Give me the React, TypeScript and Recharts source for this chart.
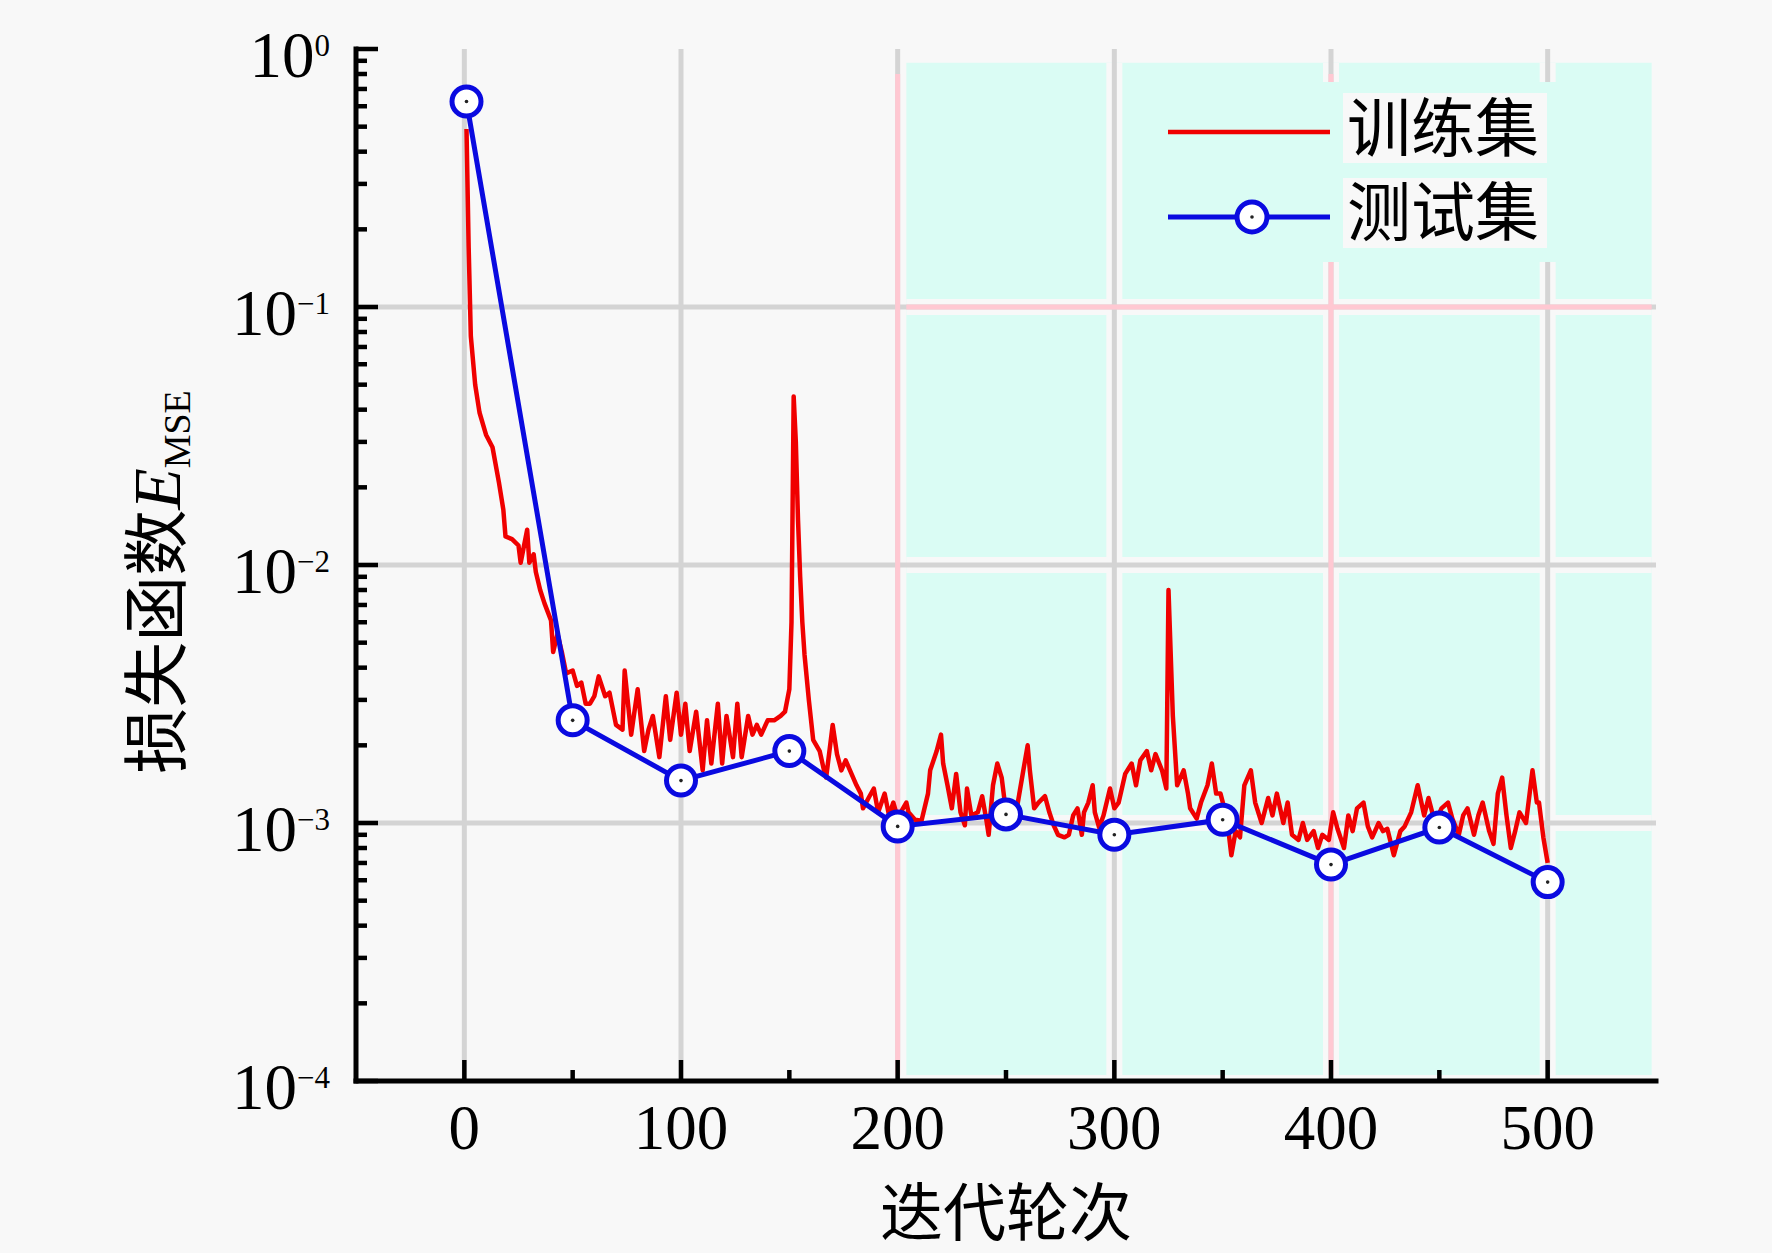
import React from 'react';
import { LineChart, Line, XAxis, YAxis, ReferenceArea, ReferenceLine, Legend } from 'recharts';

// training loss (epoch / MSE)
const trainEpochs = [
  1, 2, 3, 5, 7, 10, 13, 16, 18, 19, 22, 25, 26, 29, 30, 32, 33, 35, 37, 40,
  41, 43, 45, 47, 50, 52, 54, 56, 58, 60, 62, 65, 67, 70, 73, 74, 77, 80, 83, 85,
  87, 90, 93, 95, 98, 100, 102, 104, 107, 110, 112, 114, 117, 119, 121, 124, 126, 128, 131, 133,
  135, 137, 140, 143, 146, 148, 150, 151, 152, 153, 154, 155, 156, 157, 159, 161, 164, 166, 167, 170,
  172, 174, 176, 178, 181, 183, 184, 187, 189, 191, 194, 196, 198, 200, 204, 205, 208, 211, 214, 215,
  218, 220, 221, 223, 225, 227, 229, 231, 232, 234, 237, 239, 241, 242, 244, 246, 248, 250, 252, 255,
  258, 260, 261, 263, 265, 268, 270, 272, 274, 277, 279, 281, 283, 285, 286, 288, 290, 291, 293, 295,
  298, 300, 302, 305, 308, 310, 312, 315, 317, 319, 322, 324, 325, 327, 329, 332, 334, 335, 338, 340,
  343, 345, 347, 349, 352, 354, 356, 358, 360, 363, 365, 368, 371, 373, 375, 378, 380, 382, 385, 387,
  389, 392, 394, 396, 399, 401, 403, 406, 408, 410, 412, 415, 417, 419, 422, 424, 426, 429, 432, 434,
  437, 440, 443, 445, 448, 451, 454, 456, 459, 461, 463, 466, 468, 470, 473, 475, 477, 479, 481, 483,
  485, 487, 490, 493, 495, 496, 498, 500,
];
const trainLoss = [
  0.49, 0.17, 0.077, 0.05, 0.039, 0.032, 0.0286, 0.0208, 0.0164, 0.0129, 0.0126, 0.0119, 0.0102, 0.0137, 0.0102, 0.011, 0.0094, 0.008, 0.0071, 0.0061,
  0.0046, 0.0054, 0.0046, 0.0038, 0.0039, 0.0034, 0.0035, 0.0029, 0.0029, 0.0031, 0.0037, 0.0031, 0.0032, 0.0024, 0.0023, 0.0039, 0.0022, 0.0033, 0.0019, 0.0023,
  0.0026, 0.0018, 0.0031, 0.0021, 0.0032, 0.0022, 0.0029, 0.0019, 0.0027, 0.0016, 0.0025, 0.0017, 0.0029, 0.0017, 0.0026, 0.0018, 0.0029, 0.0018, 0.0026, 0.0022,
  0.0024, 0.0022, 0.0025, 0.0025, 0.0026, 0.0027, 0.0033, 0.006, 0.045, 0.03, 0.015, 0.009, 0.006, 0.0045, 0.003, 0.0021, 0.0019, 0.0016, 0.0015, 0.0024,
  0.00185, 0.0016, 0.00175, 0.0016, 0.0014, 0.0013, 0.00114, 0.00127, 0.00136, 0.0011, 0.0013, 0.00107, 0.0012, 0.00105, 0.0012, 0.0011, 0.00103, 0.00102, 0.0013, 0.0016,
  0.0019, 0.0022, 0.0017, 0.0014, 0.00114, 0.00155, 0.0011, 0.00098, 0.00136, 0.00107, 0.0011, 0.00127, 0.00102, 0.0009, 0.0014, 0.0017, 0.0015, 0.0011, 0.0012, 0.00114,
  0.0016, 0.002, 0.0016, 0.00114, 0.0012, 0.00127, 0.0011, 0.00098, 0.0009, 0.00088, 0.0009, 0.00107, 0.00114, 0.0009, 0.0011, 0.0012, 0.0014, 0.0011, 0.00096, 0.00107,
  0.00136, 0.00114, 0.0012, 0.00155, 0.0017, 0.0014, 0.00175, 0.0019, 0.0016, 0.00185, 0.0016, 0.00136, 0.008, 0.0026, 0.0014, 0.0016, 0.0013, 0.00114, 0.00104, 0.0012,
  0.0014, 0.0017, 0.0013, 0.0013, 0.00104, 0.00075, 0.00093, 0.00088, 0.0014, 0.0016, 0.0012, 0.001, 0.00125, 0.00107, 0.0013, 0.001, 0.0012, 0.0009, 0.00086, 0.001,
  0.00086, 0.00093, 0.0008, 0.0009, 0.00086, 0.0011, 0.00095, 0.0008, 0.00107, 0.00093, 0.00114, 0.0012, 0.00097, 0.00088, 0.001, 0.00093, 0.00095, 0.00075, 0.00093, 0.00097,
  0.0011, 0.0014, 0.00107, 0.00125, 0.001, 0.00114, 0.0012, 0.00104, 0.0009, 0.00107, 0.00114, 0.0009, 0.00107, 0.0012, 0.00093, 0.00083, 0.0013, 0.0015, 0.00107, 0.0008,
  0.00093, 0.0011, 0.001, 0.0016, 0.0012, 0.0012, 0.00088, 0.0007,
];

// test loss, every 50 epochs
const testEpochs = [1, 50, 100, 150, 200, 250, 300, 350, 400, 450, 500];
const testLoss = [0.626, 0.0025, 0.00146, 0.0019, 0.00097, 0.00108, 0.0009, 0.00103, 0.00069, 0.00096, 0.00059];

const seriesNames = ['训练集', '测试集'];

const xMajorTicks = [0, 100, 200, 300, 400, 500];
const xMinorTicks = [50, 150, 250, 350, 450];
const yMajorTicks = [1e-4, 1e-3, 1e-2, 1e-1, 1];
const yTickExponents = ['−4', '−3', '−2', '−1', '0'];
const yMinorTicks = yMajorTicks.slice(0, 4).flatMap((d) => [2, 3, 4, 5, 6, 7, 8, 9].map((m) => m * d));

const trainData = trainEpochs.map((epoch, i) => ({ epoch, loss: trainLoss[i] }));
const testData = testEpochs.map((epoch, i) => ({ epoch, loss: testLoss[i] }));

const RED = '#f00000';
const BLUE = '#0a0ae0';
const CYAN = '#dafcf4';
const BG = '#f8f8f8';
const GRID = '#d4d4d4';
const PINK = '#ffc8d2';
const SERIF = '"Liberation Serif", "Times New Roman", serif';
const CJK = '"Noto Sans CJK SC", sans-serif';

// shaded region
const shadeX = [204, 548];
const shadeY = [1.054e-4, 0.885];

const isMajorY = (v: number) => yMajorTicks.some((t) => Math.abs(v / t - 1) < 1e-6);

const XTick = ({ x, y, payload, top }: any) => {
  const major = xMajorTicks.includes(payload.value);
  const len = major ? 21 : 11;
  const dir = top ? 1 : -1;
  return (
    <g>
      <line x1={x} x2={x} y1={y} y2={y + dir * len} stroke="#000" strokeWidth={4.5} />
      {major && !top && (
        <text x={x} y={y + 68} textAnchor="middle" fontFamily={SERIF} fontSize={63} fill="#000">
          {payload.value}
        </text>
      )}
    </g>
  );
};

const YTick = ({ x, y, payload, right }: any) => {
  const major = isMajorY(payload.value);
  const len = major ? 22 : 11;
  const dir = right ? -1 : 1;
  const idx = yMajorTicks.findIndex((t) => Math.abs(payload.value / t - 1) < 1e-6);
  return (
    <g>
      <line x1={x} x2={x + dir * len} y1={y} y2={y} stroke="#000" strokeWidth={4.5} />
      {major && !right && (
        <text x={x - 26} y={y + 28} textAnchor="end" fontFamily={SERIF} fontSize={65} fill="#000">
          10
          <tspan fontSize={31} dy={-21}>
            {yTickExponents[idx]}
          </tspan>
        </text>
      )}
    </g>
  );
};

const TestDot = (props: any) => {
  const { cx, cy, index } = props;
  if (cx == null || cy == null) return <g key={`d-${index}`} />;
  return (
    <g key={`d-${index}`}>
      <circle cx={cx} cy={cy} r={14.5} fill="#ffffff" stroke={BLUE} strokeWidth={5} />
      <circle cx={cx} cy={cy} r={1.8} fill="#222" />
    </g>
  );
};

const LegendBox = () => (
  <svg width={420} height={200}>
    <rect x={10} y={12} width={400} height={180} fill={CYAN} />
    <rect x={193} y={23} width={204} height={70} fill={BG} />
    <rect x={193} y={108} width={204} height={70} fill={BG} />
    <line x1={18} x2={180} y1={62} y2={62} stroke={RED} strokeWidth={4.5} />
    <line x1={18} x2={180} y1={147} y2={147} stroke={BLUE} strokeWidth={5} />
    <circle cx={102} cy={147} r={15} fill="#ffffff" stroke={BLUE} strokeWidth={5} />
    <circle cx={102} cy={147} r={1.8} fill="#222" />
    <text x={197} y={81} fontFamily={CJK} fontSize={64} fill="#000">
      {seriesNames[0]}
    </text>
    <text x={197} y={165} fontFamily={CJK} fontSize={64} fill="#000">
      {seriesNames[1]}
    </text>
  </svg>
);

const axisLine = { stroke: '#000', strokeWidth: 5, strokeLinecap: 'square' as const };

export default function App() {
  const allX = [...xMajorTicks, ...xMinorTicks].sort((a, b) => a - b);
  const allY = [...yMajorTicks, ...yMinorTicks].sort((a, b) => a - b);
  return (
    <div style={{ position: 'relative', width: 1772, height: 1253, background: BG }}>
      <style>{`body{margin:0;background:${BG};}`}</style>
      <LineChart width={1772} height={1253} margin={{ top: 49, right: 116, bottom: 0, left: 0 }}>
        <XAxis
          xAxisId="top"
          orientation="top"
          type="number"
          dataKey="epoch"
          domain={[-50, 550]}
          allowDataOverflow
          ticks={allX}
          interval={0}
          height={0}
          tickSize={0}
          tickMargin={0}
          tickLine={false}
          axisLine={axisLine}
          tick={<XTick top />}
        />
        <XAxis
          type="number"
          dataKey="epoch"
          domain={[-50, 550]}
          allowDataOverflow
          ticks={allX}
          interval={0}
          height={172}
          tickSize={0}
          tickMargin={0}
          tickLine={false}
          axisLine={axisLine}
          tick={<XTick />}
        />
        <YAxis
          type="number"
          scale="log"
          domain={[1e-4, 1]}
          allowDataOverflow
          ticks={allY}
          interval={0}
          width={356}
          tickSize={0}
          tickMargin={0}
          tickLine={false}
          axisLine={axisLine}
          tick={<YTick />}
        />
        <YAxis
          yAxisId="right"
          orientation="right"
          type="number"
          scale="log"
          domain={[1e-4, 1]}
          allowDataOverflow
          ticks={allY}
          interval={0}
          width={0}
          tickSize={0}
          tickMargin={0}
          tickLine={false}
          axisLine={axisLine}
          tick={<YTick right />}
        />

        <ReferenceArea x1={shadeX[0]} x2={shadeX[1]} y1={shadeY[0]} y2={shadeY[1]} fill={CYAN} fillOpacity={1} stroke="none" />

        {/* light gaps around the grid inside the shaded region */}
        {[300, 400, 500].map((v) => (
          <ReferenceLine key={`gx-${v}`} segment={[{ x: v, y: shadeY[0] }, { x: v, y: shadeY[1] }]} stroke={BG} strokeWidth={16} />
        ))}
        {[1e-3, 1e-2, 1e-1].map((v) => (
          <ReferenceLine key={`gy-${v}`} segment={[{ x: shadeX[0], y: v }, { x: shadeX[1], y: v }]} stroke={BG} strokeWidth={16} />
        ))}

        {xMajorTicks.map((v) => (
          <ReferenceLine key={`vx-${v}`} x={v} stroke={GRID} strokeWidth={5} />
        ))}
        {[1e-3, 1e-2, 1e-1].map((v) => (
          <ReferenceLine key={`hy-${v}`} y={v} stroke={GRID} strokeWidth={5} />
        ))}
        {[200, 400].map((v) => (
          <ReferenceLine key={`px-${v}`} segment={[{ x: v, y: shadeY[0] }, { x: v, y: 0.8 }]} stroke={PINK} strokeWidth={5} />
        ))}
        <ReferenceLine segment={[{ x: shadeX[0], y: 0.1 }, { x: shadeX[1], y: 0.1 }]} stroke={PINK} strokeWidth={5} />

        <Line
          data={trainData}
          dataKey="loss"
          name={seriesNames[0]}
          stroke={RED}
          strokeWidth={4.5}
          strokeLinejoin="round"
          dot={false}
          activeDot={false}
          isAnimationActive={false}
        />
        <Line
          data={testData}
          dataKey="loss"
          name={seriesNames[1]}
          stroke={BLUE}
          strokeWidth={5}
          dot={<TestDot />}
          activeDot={false}
          isAnimationActive={false}
        />

        <Legend
          layout="vertical"
          align="center"
          verticalAlign="middle"
          wrapperStyle={{ left: 1150, top: 70, width: 420, height: 200 }}
          content={<LegendBox />}
        />
      </LineChart>

      {/* axis titles */}
      <svg width={1772} height={1253} style={{ position: 'absolute', left: 0, top: 0, pointerEvents: 'none' }}>
        <text x={1006} y={1235} textAnchor="middle" fontFamily={CJK} fontSize={63} fill="#000">
          迭代轮次
        </text>
        <g transform="translate(155, 582) rotate(-90)">
          <text x={0} y={25} textAnchor="middle" fill="#000">
            <tspan fontFamily={CJK} fontSize={66}>损失函数</tspan>
            <tspan fontFamily={SERIF} fontStyle="italic" fontSize={68}>E</tspan>
            <tspan fontFamily={SERIF} fontSize={38} dy={10}>MSE</tspan>
          </text>
        </g>
      </svg>
    </div>
  );
}
